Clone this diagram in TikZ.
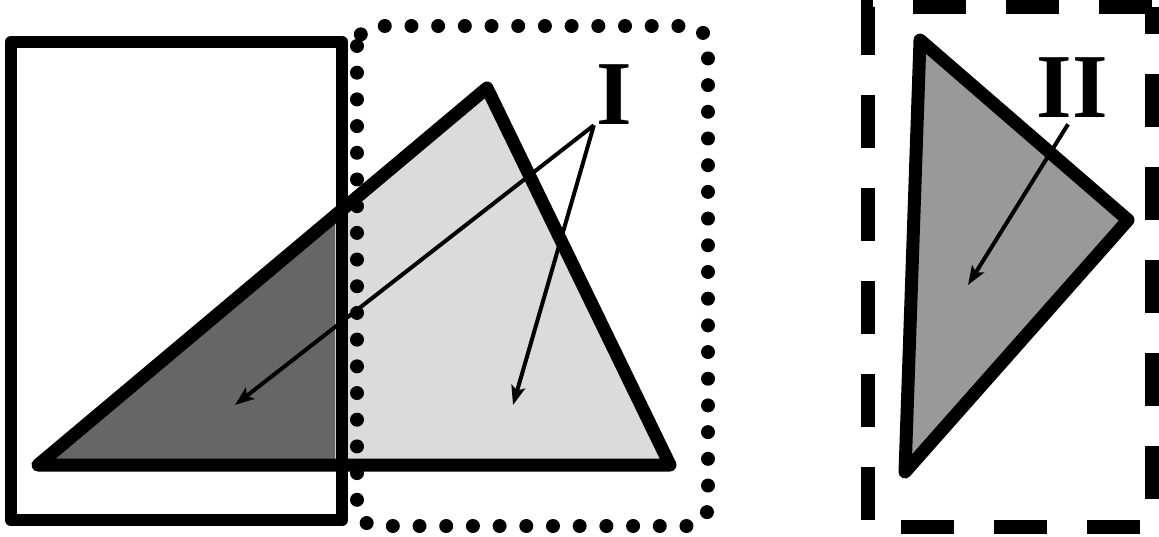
\documentclass[tikz,border=0pt]{standalone}
\usepackage{fontspec}
\setmainfont{Liberation Serif}
\usetikzlibrary{arrows.meta}

\begin{document}
\begin{tikzpicture}[
  x=0.02cm, y=-0.02cm,
  frame/.style={draw, line width=0.25cm, line join=round},
  outline/.style={draw, line width=0.26cm, line join=round},
  dotframe/.style={draw, line width=0.28cm, line cap=round, dash pattern=on 0pt off 0.534cm, rounded corners=0.4cm},
  dashframe/.style={draw, line width=0.28cm, dash pattern=on 1.06cm off 0.8cm},
  pointer/.style={-{Stealth[length=0.38cm, width=0.28cm, inset=0.08cm]}, line width=0.08cm},
  roman/.style={font=\fontsize{52}{52}\selectfont\bfseries, inner sep=0pt}
]
  \useasboundingbox (0,0) rectangle (1159,537);

  % Left triangle, light part and the part inside the box
  \fill[gray!28] (38,465) -- (487,88) -- (670,465) -- cycle;
  \begin{scope}
    \clip (11,42) rectangle (335,520);
    \fill[black!60] (38,465) -- (487,88) -- (670,465) -- cycle;
  \end{scope}
  \draw[outline] (38,465) -- (487,88) -- (670,465) -- cycle;
  \draw[frame] (11,42) rectangle (342,520);
  \draw[dotframe] (357,26) rectangle (708,526);

  % Right triangle
  \draw[outline, fill=black!40] (920,40) -- (1128,220) -- (905,472) -- cycle;
  \draw[dashframe] (1152,7) -- (868,7) -- (868,527) -- (1152,527) -- cycle;

  % Labels
  \node[roman] (one) at (614,95) {I};
  \node[roman] (two) at (1072,88) {II};

  \coordinate (tipA) at (235,405);
  \coordinate (tipB) at (513,405);
  \coordinate (tipC) at (968,285);

  \draw[pointer] ([xshift=-0.04cm]one.south west) -- (tipA);
  \draw[pointer] ([xshift=-0.04cm]one.south west) -- (tipB);
  \draw[pointer] ([xshift=-0.08cm, yshift=-0.12cm]two.south) -- (tipC);
\end{tikzpicture}
\end{document}
